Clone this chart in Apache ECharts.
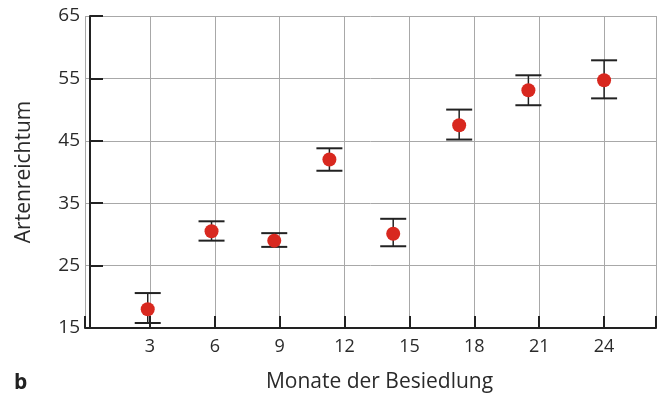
<!DOCTYPE html>
<html>
<head>
<meta charset="utf-8">
<script src="https://cdn.jsdelivr.net/npm/echarts@6/dist/echarts.min.js"></script>
<style>
html,body{margin:0;padding:0;background:#fff;}
#chart{width:659px;height:398px;}
</style>
</head>
<body>
<div id="chart"></div>
<script>
// Data
const months = [2.9, 5.85, 8.75, 11.3, 14.25, 17.3, 20.5, 24];
const meanValues = [18.0, 30.5, 29.0, 42.0, 30.1, 47.5, 53.1, 54.7];
const lowerValues = [15.8, 29.0, 28.0, 40.2, 28.1, 45.2, 50.7, 51.8];
const upperValues = [20.6, 32.1, 30.2, 43.8, 32.5, 50.0, 55.5, 57.9];
const xTickLabels = ['3', '6', '9', '12', '15', '18', '21', '24'];
const yTickLabels = ['15', '25', '35', '45', '55', '65'];

const FONT = 'Open Sans';
const TXT = '#2a2a2a';

const points = months.map((m, i) => [m, meanValues[i]]);
const bars = months.map((m, i) => [m, lowerValues[i], upperValues[i]]);

const chart = echarts.init(document.getElementById('chart'));
chart.setOption({
  animation: false,
  backgroundColor: '#fff',
  grid: { left: 85, right: 0, top: 16, bottom: 67, containLabel: false },
  xAxis: {
    type: 'value', min: 0, max: 26.4, interval: 3,
    name: 'Monate der Besiedlung', nameLocation: 'middle', nameGap: 44,
    nameTextStyle: { fontFamily: FONT, fontSize: 21, color: TXT, padding: [0, 0, 0, 18] },
    axisLine: { show: true, onZero: false, lineStyle: { color: '#222', width: 2 } },
    axisTick: { show: true, inside: true, length: 12, lineStyle: { color: '#222', width: 2 } },
    axisLabel: {
      fontFamily: FONT, fontSize: 18, color: TXT, margin: 10,
      formatter: v => { const s = String(v); return xTickLabels.includes(s) ? s : ''; }
    },
    splitLine: { show: true, lineStyle: { color: '#a8a8a8', width: 1 } }
  },
  yAxis: {
    type: 'value', min: 15, max: 65, interval: 10, offset: -5,
    name: 'Artenreichtum', nameLocation: 'middle', nameGap: 55,
    nameTextStyle: { fontFamily: FONT, fontSize: 21, color: TXT },
    axisLine: { show: true, lineStyle: { color: '#222', width: 2 } },
    axisTick: { show: true, inside: true, length: 13, lineStyle: { color: '#222', width: 2 } },
    axisLabel: {
      fontFamily: FONT, fontSize: 19, color: TXT, margin: 10,
      formatter: v => { const s = String(v); return yTickLabels.includes(s) ? s : ''; }
    },
    splitLine: { show: true, lineStyle: { color: '#a8a8a8', width: 1 } }
  },
  graphic: [{
    type: 'text', left: 14, top: 373,
    style: { text: 'b', fontFamily: FONT, fontSize: 21, fontWeight: 'bold', fill: '#222' }
  }],
  series: [
    {
      type: 'custom',
      data: bars,
      encode: { x: 0, y: [1, 2] },
      z: 3,
      renderItem: function (params, api) {
        const x = api.value(0);
        const lo = api.coord([x, api.value(1)]);
        const hi = api.coord([x, api.value(2)]);
        const half = 13;
        const st = { stroke: '#222', lineWidth: 2 };
        return {
          type: 'group',
          children: [
            { type: 'line', shape: { x1: hi[0], y1: hi[1], x2: lo[0], y2: lo[1] }, style: { stroke: '#222', lineWidth: 1.5 } },
            { type: 'line', shape: { x1: hi[0] - half, y1: hi[1], x2: hi[0] + half, y2: hi[1] }, style: st },
            { type: 'line', shape: { x1: lo[0] - half, y1: lo[1], x2: lo[0] + half, y2: lo[1] }, style: st }
          ]
        };
      }
    },
    {
      type: 'scatter',
      data: points,
      symbol: 'circle',
      symbolSize: 14,
      z: 4,
      itemStyle: { color: '#d8281f', opacity: 1 }
    }
  ]
});
</script>
</body>
</html>
